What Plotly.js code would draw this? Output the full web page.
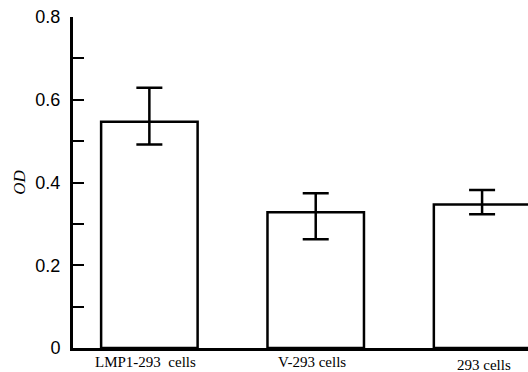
<!DOCTYPE html>
<html>
<head>
<meta charset="utf-8">
<script src="https://cdn.plot.ly/plotly-3.0.1.min.js"></script>
<style>html,body{margin:0;padding:0;background:#fff;}#chart{width:528px;height:372px;}</style>
</head>
<body>
<div id="chart"></div>
<script>
const categories = ["LMP1-293  cells", "V-293 cells", "293 cells"];
const odValues = [0.547, 0.328, 0.347];
const errPlus = [0.082, 0.046, 0.035];
const errMinus = [0.055, 0.065, 0.024];
const yTickVals = [0, 0.1, 0.2, 0.3, 0.4, 0.5, 0.6, 0.7, 0.8];
const yTickText = ["0", "", "0.2", "", "0.4", "", "0.6", "", "0.8"];

const xIdx = categories.map((c, i) => i);

const trace = {
  type: "bar",
  x: xIdx,
  y: odValues,
  width: 0.58,
  marker: {color: "#ffffff", line: {color: "#000000", width: 2.5}},
  error_y: {
    type: "data", symmetric: false,
    array: errPlus, arrayminus: errMinus,
    color: "#000000", thickness: 2.5, width: 13
  },
  hoverinfo: "none"
};

const annotations = categories.map((c, i) => ({
  x: i, y: 0, xref: "x", yref: "paper",
  text: c, showarrow: false,
  xanchor: "center", yanchor: "top",
  xshift: i === 2 ? 2 : -4,
  yshift: i === 2 ? -7 : -4,
  font: {family: "Liberation Serif, Times New Roman, serif", size: 15, color: "#000"}
}));

const layout = {
  width: 528, height: 372,
  margin: {l: 73, r: 0, t: 17, b: 24, pad: 0},
  paper_bgcolor: "#fff", plot_bgcolor: "#fff",
  showlegend: false,
  bargap: 0,
  xaxis: {
    range: [-0.459, 2.276],
    tickvals: xIdx, showticklabels: false,
    ticks: "", showgrid: false, zeroline: false,
    showline: true, linecolor: "#000", linewidth: 3
  },
  yaxis: {
    range: [0, 0.8],
    tickvals: yTickVals, ticktext: yTickText,
    ticks: "inside", ticklen: 11, tickwidth: 2, tickcolor: "#000",
    showgrid: false, zeroline: false,
    showline: true, linecolor: "#000", linewidth: 3,
    ticklabelstandoff: 6,
    tickfont: {family: "Liberation Sans, Arial, sans-serif", size: 18, color: "#000"},
    title: {text: "<i>OD</i>", standoff: 6,
      font: {family: "Liberation Serif, Times New Roman, serif", size: 17, color: "#000"}}
  },
  annotations: annotations
};

Plotly.newPlot("chart", [trace], layout, {staticPlot: true, displayModeBar: false});
</script>
</body>
</html>
